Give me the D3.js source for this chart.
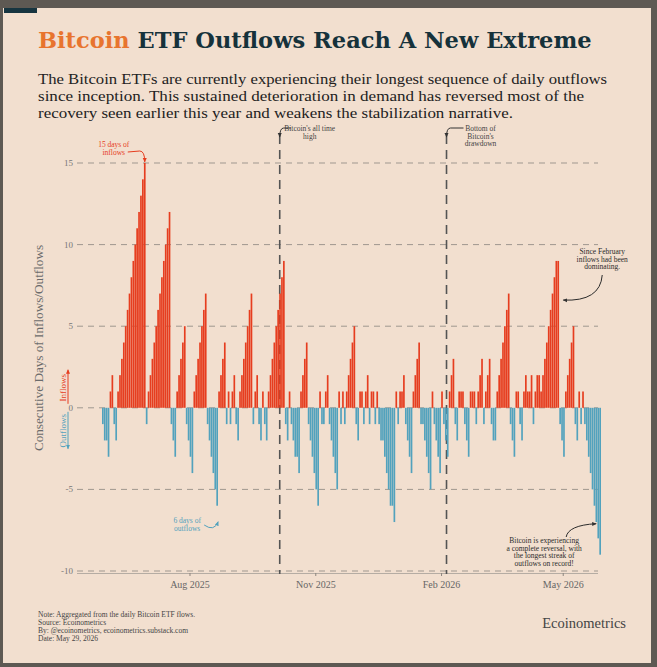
<!DOCTYPE html>
<html>
<head>
<meta charset="utf-8">
<script src="https://cdn.jsdelivr.net/npm/d3@7"></script>
<style>
body{margin:0;background:#5e5953;}
svg text{font-family:"Liberation Serif","DejaVu Serif",serif;}
</style>
</head>
<body>
<div id="container"></div>
<script>
// consecutive days of inflows (+) / outflows (-), one value per trading day
const streak=[
-1,-2,-2,-3,1,2,-1,-2,
1,2,3,4,5,6,7,8,9,10,11,12,13,14,15,
-1,
1,2,3,4,5,6,7,8,9,10,11,12,
-1,-2,-3,
1,2,3,4,5,
-1,-2,-3,-4,
1,2,3,4,5,6,7,
-1,-2,-3,-4,-5,-6,
1,2,3,4,
-1,1,-1,1,2,-1,-2,
1,2,3,4,5,6,7,
-1,1,2,-1,-2,1,
-1,-2,
1,2,3,4,5,6,7,8,9,
-1,-2,1,-1,-2,-3,-3,-4,
1,2,3,4,
-1,-2,-3,-4,-5,-6,
1,-1,-1,1,2,
-1,-2,-3,-4,-5,
1,-1,1,-1,
1,2,3,4,5,
-1,-2,1,1,-1,1,2,-1,1,1,-1,1,
-1,-2,-2,-3,-4,-5,-6,-6,-7,
1,-1,1,1,2,
-1,-2,-3,-4,
1,2,3,4,
-1,-1,-2,-3,-4,-5,
1,
-1,-2,-3,-4,
1,
-1,-2,-3,
1,2,3,
-1,-2,
1,1,1,
-1,-2,-3,
1,1,1,
-1,
1,2,3,
-1,
1,2,3,
-1,-2,-2,
1,2,3,4,5,6,7,
-1,-2,-3,
1,1,
-1,-2,
1,2,1,1,2,
-1,
1,2,2,1,2,3,4,5,6,7,8,9,9,
-1,-2,-3,
1,2,3,4,5,
-1,-2,
1,-1,1,
-1,-2,-3,-4,-5,-6,-7,-8,-9
];
const yTicks=[15,10,5,0,-5,-10];
const monthTicks=["2025-08-01","2025-11-01","2026-02-01","2026-05-01"];
const monthLabels=["Aug 2025","Nov 2025","Feb 2026","May 2026"];
const firstDay="2025-05-29", lastDay="2026-05-29";
const eventDates=["2025-10-06","2026-02-05"];
const eventLabels=[["Bitcoin's all time","high"],["Bottom of","Bitcoin's","drawdown"]];
const subtitle=[
 "The Bitcoin ETFs are currently experiencing their longest sequence of daily outflows",
 "since inception. This sustained deterioration in demand has reversed most of the",
 "recovery seen earlier this year and weakens the stabilization narrative."];
const subtitleWidths=[569,546,475];
const footer=["Note: Aggregated from the daily Bitcoin ETF flows.","Source: Ecoinometrics",
 "By: @ecoinometrics, ecoinometrics.substack.com","Date: May 29, 2026"];

const w=657, h=667;
const red="#e63d1f", blue="#52a2bd", grid="#9f978f", ink="#2b2b2b";
const svg=d3.select("#container").append("svg").attr("width",w).attr("height",h);

svg.append("rect").attr("width",w).attr("height",h).attr("fill","#5e5953");
svg.append("rect").attr("x",3).attr("y",8).attr("width",648).attr("height",655).attr("fill","#f2dfcf");
svg.append("rect").attr("x",4).attr("y",8).attr("width",33).attr("height",5).attr("fill","#173540");

// Title
const title=svg.append("text").attr("x",38).attr("y",48)
  .style("font-family","'DejaVu Serif',serif").style("font-weight","bold").style("font-size","21px");
title.append("tspan").attr("fill","#e8742e").text("Bitcoin");
title.append("tspan").attr("fill","#16323b").text(" ETF Outflows Reach A New Extreme");
const tw=title.node().getComputedTextLength();
title.style("font-size",(21*554/tw)+"px");

// subtitle, stretched to the reference width
svg.selectAll(".sub").data(subtitle).enter().append("text")
  .attr("x",38).attr("y",(d,i)=>84+i*17)
  .attr("fill","#222").style("font-size","15.2px")
  .attr("textLength",(d,i)=>subtitleWidths[i]).attr("lengthAdjust","spacingAndGlyphs")
  .text(d=>d);

// scales
const x=d3.scaleBand().domain(d3.range(streak.length)).range([102,601]).paddingInner(0.12);
const xTime=d3.scaleTime().domain([new Date(firstDay),new Date(lastDay)]).range([102,601]);
const y=d3.scaleLinear().domain([-10,15]).range([571,163]);

const graph=svg.append("g");

// gridlines
graph.selectAll(".grid").data(yTicks).enter().append("line")
  .attr("x1",77).attr("x2",598).attr("y1",d=>y(d)).attr("y2",d=>y(d))
  .attr("stroke",grid).attr("stroke-width",1).attr("stroke-dasharray","6,5");
graph.selectAll(".ylab").data(yTicks).enter().append("text")
  .attr("x",73).attr("y",d=>y(d)+3).attr("text-anchor","end")
  .attr("fill","#777").style("font-size","9px").text(d=>d);

// x axis
const xAxisGroup=graph.append("g").attr("transform",`translate(0,${y(-10)+2})`);
xAxisGroup.call(d3.axisBottom(xTime).tickValues(monthTicks.map(d=>new Date(d))).tickSize(3)
  .tickFormat((d,i)=>monthLabels[i]));
xAxisGroup.select(".domain").attr("d","M77,0.5H598").attr("stroke","#b5aca3");
xAxisGroup.selectAll(".tick line").attr("stroke","#8c857e");
xAxisGroup.selectAll(".tick text").attr("fill","#666").style("font-size","10px")
  .style("font-family","'Liberation Serif',serif").attr("dy","0.9em");

// event lines
const ev=graph.selectAll(".event").data(eventDates).enter().append("g");
ev.append("line").attr("x1",d=>xTime(new Date(d))).attr("x2",d=>xTime(new Date(d)))
  .attr("y1",135).attr("y2",574).attr("stroke","#545454").attr("stroke-width",1.6)
  .attr("stroke-dasharray","9,6");

// bars
graph.selectAll(".bar").data(streak).enter().append("rect")
  .attr("x",(d,i)=>x(i)).attr("width",x.bandwidth())
  .attr("y",d=>d>0?y(d):y(0)).attr("height",d=>Math.abs(y(d)-y(0)))
  .attr("fill",d=>d>0?red:blue);

// arrow markers
const defs=svg.append("defs");
[["ar",red],["ab",blue],["ak","#333"]].forEach(([id,c])=>{
  defs.append("marker").attr("id",id).attr("viewBox","0 0 10 10").attr("refX",8).attr("refY",5)
    .attr("markerWidth",5).attr("markerHeight",5).attr("orient","auto")
    .append("path").attr("d","M0,1L9,5L0,9z").attr("fill",c);
});

function note(lines,cx,cy,color,size){
  const t=graph.append("text").attr("text-anchor","middle").attr("fill",color).style("font-size",size+"px");
  lines.forEach((l,i)=>t.append("tspan").attr("x",cx).attr("y",cy+i*size).text(l));
}
function arrow(d,color,id){
  graph.append("path").attr("d",d).attr("fill","none").attr("stroke",color)
    .attr("stroke-width",1).attr("marker-end",`url(#${id})`);
}

// 15 days annotation
const i15=streak.indexOf(15), x15=x(i15)+x.bandwidth()/2;
note(["15 days of","inflows"],x15-31,147,red,7.5);
arrow(`M${x15-17},${152}L${x15-5},${151}Q${x15},${151} ${x15},${y(15)-1}`,red,"ar");

// 6 days of outflows
const i6=streak.indexOf(-6), x6=x(i6)+x.bandwidth()/2;
note(["6 days of","outflows"],x6-30,523,blue,7.5);
arrow(`M${x6-13},${525}Q${x6-3},${532} ${x6+1},${y(-6)+16}`,blue,"ab");

// event notes
eventDates.forEach((d,k)=>{
  const ex=xTime(new Date(d));
  note(eventLabels[k],ex+(k?34:30),131,"#444",7.5);
  arrow(`M${ex+(k?17:11)},${128}L${ex+4},${128}Q${ex},${128} ${ex},${137}`,"#333","ak");
});

// since february
const i9=streak.lastIndexOf(9), x9=x(i9)+x.bandwidth()/2;
note(["Since February","inflows had been","dominating."],x9+44,254,ink,7.5);
arrow(`M${x9+44},${275}Q${x9+42},${y(6.5)} ${x9+5},${y(6.6)}`,ink,"ak");

// reversal
const iL=streak.length-1, xL=x(iL)+x.bandwidth()/2;
note(["Bitcoin is experiencing","a complete reversal, with","the longest streak of","outflows on record!"],xL-56,543,ink,7.5);
arrow(`M${xL-34},${537}Q${xL-32},${y(-7.2)} ${xL-4},${y(-7.1)}`,ink,"ak");

// axis title and inflow/outflow legend
svg.append("text").attr("transform","translate(43,348) rotate(-90)").attr("text-anchor","middle")
  .attr("fill","#6b6b6b").style("font-size","13.2px").text("Consecutive Days of Inflows/Outflows");
svg.append("text").attr("transform",`translate(66,${y(0)-20}) rotate(-90)`).attr("text-anchor","middle")
  .attr("fill",red).style("font-size","9px").text("Inflows");
svg.append("text").attr("transform",`translate(66,${y(0)+23}) rotate(-90)`).attr("text-anchor","middle")
  .attr("fill",blue).style("font-size","9px").text("Outflows");
svg.append("path").attr("d",`M68,${y(0)-4}V${y(0)-38}`).attr("stroke",red).attr("marker-end","url(#ar)");
svg.append("path").attr("d",`M68,${y(0)+4}V${y(0)+41}`).attr("stroke",blue).attr("marker-end","url(#ab)");

// footer
svg.selectAll(".foot").data(footer).enter().append("text")
  .attr("x",38).attr("y",(d,i)=>617+i*8).attr("fill","#444").style("font-size","7.5px").text(d=>d);
svg.append("text").attr("x",626).attr("y",628).attr("text-anchor","end")
  .attr("fill","#444").style("font-size","14.5px").text("Ecoinometrics");
</script>
</body>
</html>
